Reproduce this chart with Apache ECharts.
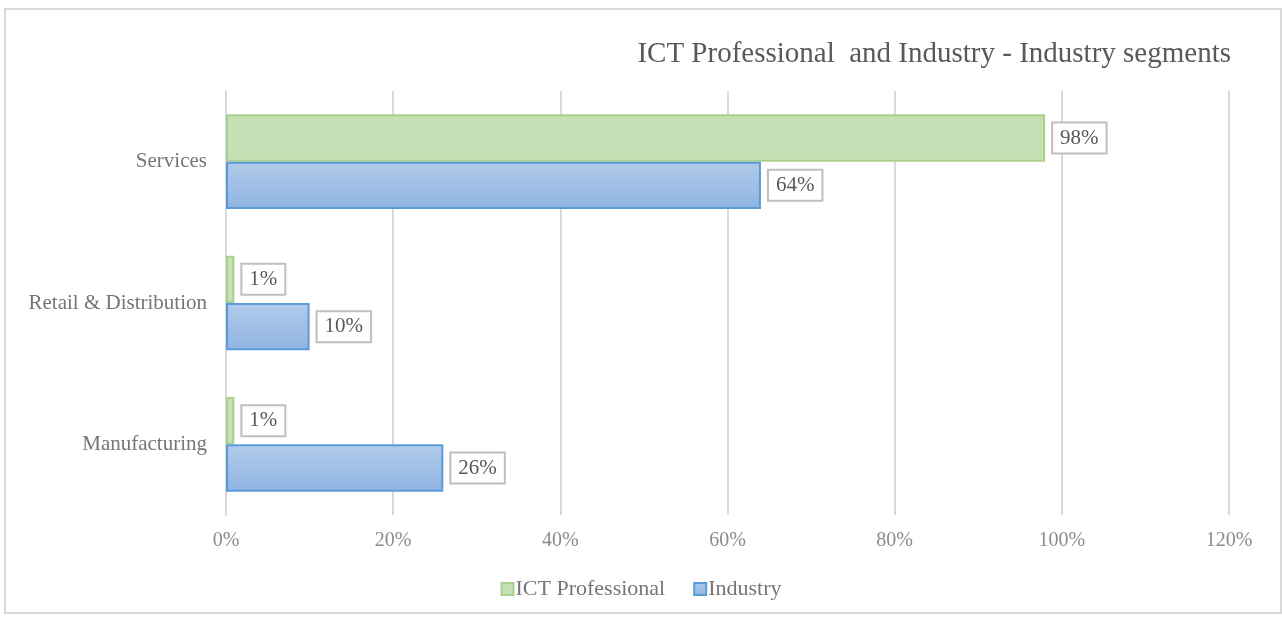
<!DOCTYPE html>
<html>
<head>
<meta charset="utf-8">
<script src="https://cdn.jsdelivr.net/npm/echarts@6/dist/echarts.min.js"></script>
<style>
  html, body { margin: 0; padding: 0; background: #fff; }
  #chart { width: 1282px; height: 617px; }
</style>
</head>
<body>
<div id="chart"></div>
<script>
  // categories bottom -> top
  var categories = ['Manufacturing', 'Retail & Distribution', 'Services']
  var ictValues = [1, 1, 98]
  var industryValues = [26, 10, 64]
  var xTicks = [0, 20, 40, 60, 80, 100, 120]

  var serif = '"Liberation Serif", "DejaVu Serif", serif'
  var chart = echarts.init(document.getElementById('chart'))

  var labelStyle = {
    show: true,
    position: 'right',
    distance: 8,
    formatter: '{c}%',
    fontFamily: serif,
    fontSize: 21,
    color: '#595959',
    backgroundColor: '#fff',
    borderColor: '#bfbfbf',
    borderWidth: 2,
    padding: [5, 7, 3, 7]
  }

  chart.setOption({
    animation: false,
    title: {
      text: 'ICT Professional  and Industry - Industry segments',
      right: 46,
      top: 35,
      textStyle: {
        fontFamily: serif,
        fontSize: 29,
        fontWeight: 'normal',
        color: '#595959'
      }
    },
    graphic: [{
      type: 'rect',
      shape: { x: 5, y: 9, width: 1276, height: 604 },
      style: { fill: 'none', stroke: '#d9d9d9', lineWidth: 2 },
      silent: true
    }],
    legend: {
      bottom: 12,
      left: 'center',
      itemWidth: 12,
      itemHeight: 12,
      itemGap: 28,
      icon: 'rect',
      data: ['ICT Professional', 'Industry'],
      textStyle: { fontFamily: serif, fontSize: 22, color: '#767676', padding: [0, 0, 0, -3] }
    },
    grid: { left: 226, right: 53, top: 91, bottom: 102, containLabel: false },
    xAxis: {
      type: 'value',
      min: xTicks[0],
      max: xTicks[xTicks.length - 1],
      interval: 20,
      axisLine: { show: false },
      axisTick: { show: false },
      splitLine: { lineStyle: { color: '#d9d9d9', width: 2 } },
      axisLabel: {
        formatter: '{value}%',
        fontFamily: serif,
        fontSize: 20,
        color: '#8c8c8c',
        margin: 16
      }
    },
    yAxis: {
      type: 'category',
      data: categories,
      axisLine: { show: true, lineStyle: { color: '#d9d9d9', width: 2 } },
      axisTick: { show: false },
      axisLabel: {
        fontFamily: serif,
        fontSize: 21,
        color: '#767676',
        margin: 19
      }
    },
    series: [
      {
        name: 'ICT Professional',
        type: 'bar',
        data: ictValues,
        barGap: '0%',
        barCategoryGap: '33%',
        itemStyle: {
          color: '#c5e0b4',
          borderColor: '#a9d18e',
          borderWidth: 2
        },
        label: labelStyle
      },
      {
        name: 'Industry',
        type: 'bar',
        data: industryValues,
        barGap: '0%',
        barCategoryGap: '33%',
        itemStyle: {
          color: new echarts.graphic.LinearGradient(0, 0, 0, 1, [
            { offset: 0, color: '#b1cbea' },
            { offset: 1, color: '#8fb4e2' }
          ]),
          borderColor: '#5b9bd5',
          borderWidth: 2
        },
        label: labelStyle
      }
    ]
  })
</script>
</body>
</html>
